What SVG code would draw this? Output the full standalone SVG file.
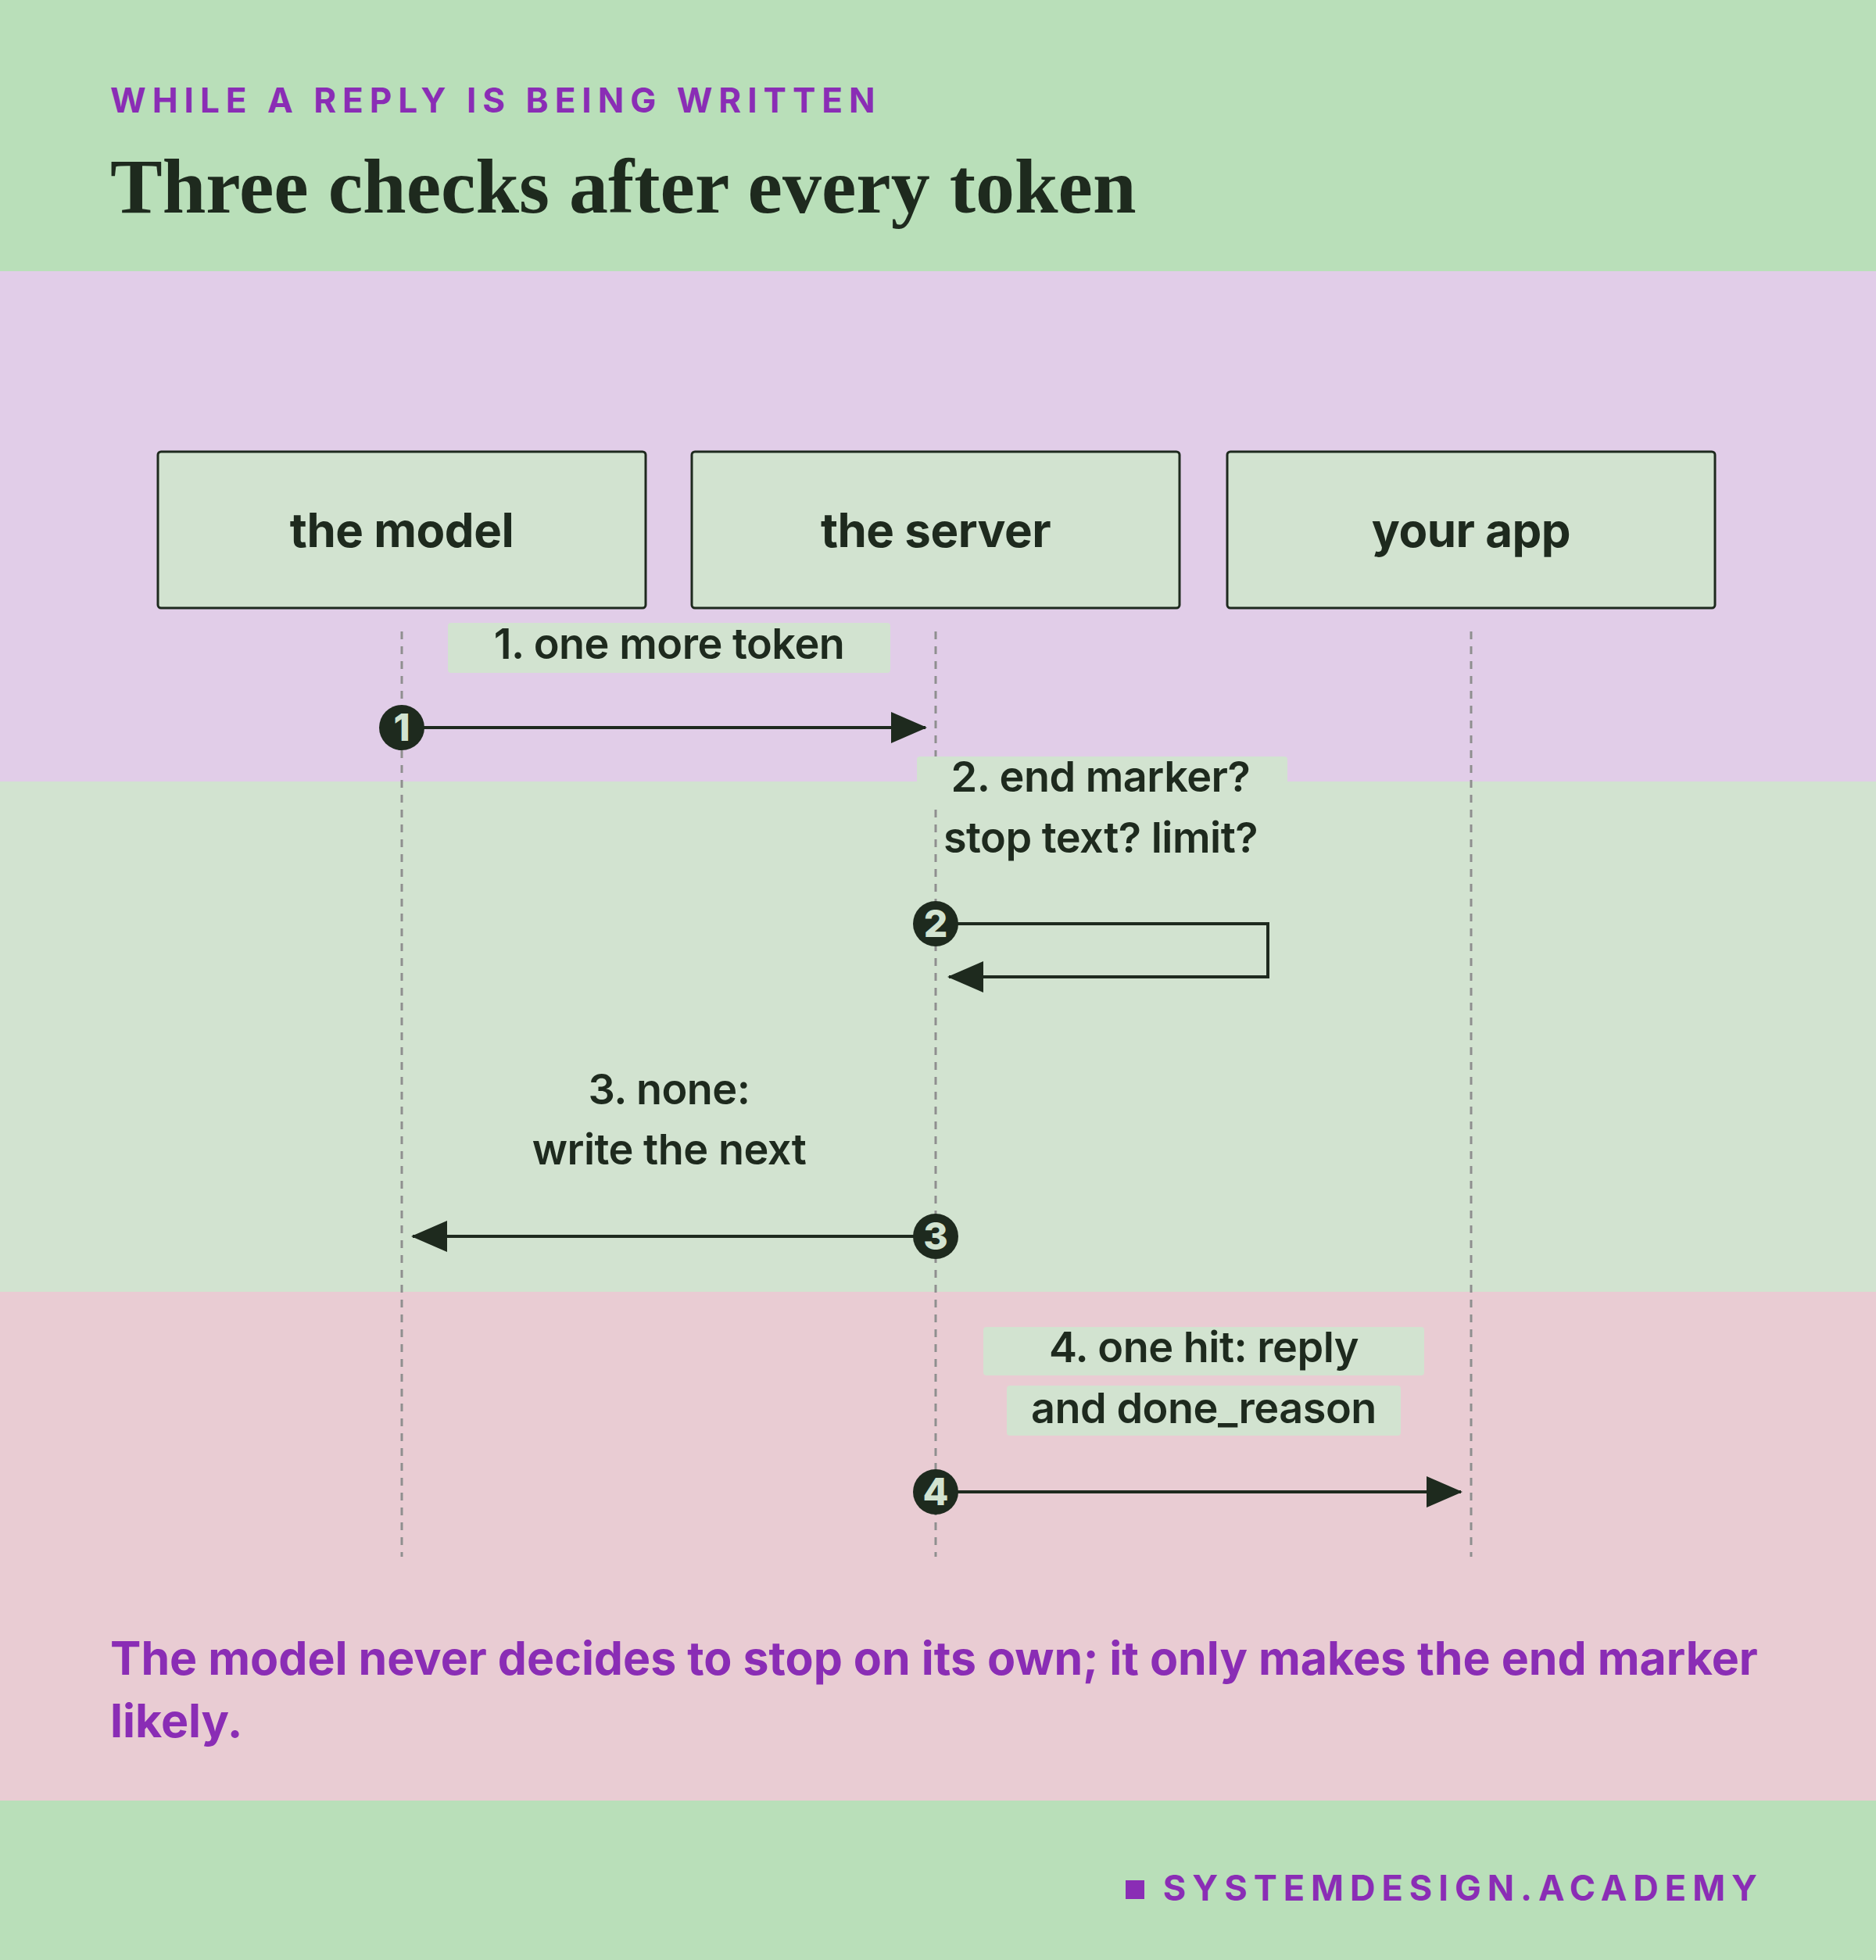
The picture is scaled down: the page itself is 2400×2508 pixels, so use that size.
<svg xmlns="http://www.w3.org/2000/svg" width="2400" height="2508" viewBox="0 0 2400 2508">
<style>
.s{font-family:Inter,"Liberation Sans",sans-serif;font-weight:600;fill:#1e2a1e;letter-spacing:-0.5px}
.b{font-weight:700}
.box{fill:#d2e3d0;stroke:#1e2a1e;stroke-width:3}
.life{stroke:#8f8f8f;stroke-width:3;stroke-dasharray:10 9}
.ln{stroke:#1e2a1e;stroke-width:4;fill:none}
.lab{fill:#d2e3d0}
.num{font-family:Inter,"Liberation Sans",sans-serif;font-weight:800;font-size:48px;fill:#d2e3d0;text-anchor:middle}
.p{font-family:Inter,"Liberation Sans",sans-serif;font-weight:700;fill:#8a2db5}
</style>
<defs>
<marker id="ah" markerUnits="userSpaceOnUse" markerWidth="48" markerHeight="40" refX="44" refY="20" orient="auto"><path d="M0,0 L46,20 L0,40 Z" fill="#1e2a1e"/></marker>
</defs>
<rect x="0" y="0" width="2400" height="347" fill="#b9dfb9"/>
<rect x="0" y="347" width="2400" height="653" fill="#e1cde8"/>
<rect x="0" y="1000" width="2400" height="653" fill="#d2e3d0"/>
<rect x="0" y="1653" width="2400" height="651" fill="#e9ccd3"/>
<rect x="0" y="2304" width="2400" height="204" fill="#b9dfb9"/>
<text x="141" y="144" class="p" font-size="44" letter-spacing="8">WHILE A REPLY IS BEING WRITTEN</text>
<text x="141" y="272" font-family="'Liberation Serif',serif" font-weight="700" font-size="100" fill="#1e2a1e">Three checks after every token</text>
<g id="n-model"><rect class="box" x="202" y="578" width="624" height="200" rx="4"/><text class="s b" x="514" y="700" font-size="60" text-anchor="middle">the model</text></g>
<g id="n-server"><rect class="box" x="885" y="578" width="624" height="200" rx="4"/><text class="s b" x="1197" y="700" font-size="60" text-anchor="middle">the server</text></g>
<g id="n-app"><rect class="box" x="1570" y="578" width="624" height="200" rx="4"/><text class="s b" x="1882" y="700" font-size="60" text-anchor="middle">your app</text></g>
<g id="connectors">
<line class="life" x1="514" y1="808" x2="514" y2="1992"/>
<line class="life" x1="1197" y1="808" x2="1197" y2="1992"/>
<line class="life" x1="1882" y1="808" x2="1882" y2="1992"/>
<rect class="lab" x="573" y="797" width="566" height="64" rx="4"/>
<text class="s" x="856" y="843" font-size="54" text-anchor="middle">1. one more token</text>
<line class="ln" x1="514" y1="931" x2="1184" y2="931" marker-end="url(#ah)"/>
<circle cx="514" cy="931" r="29" fill="#1e2a1e"/><text class="num" x="514" y="948">1</text>
<rect class="lab" x="1173" y="968" width="474" height="60" rx="4"/>
<text class="s" x="1408" y="1013" font-size="54" text-anchor="middle">2. end marker?</text>
<text class="s" x="1408" y="1091" font-size="54" text-anchor="middle">stop text? limit?</text>
<path class="ln" d="M1197,1182 H1622 V1250 H1214" marker-end="url(#ah)"/>
<circle cx="1197" cy="1182" r="29" fill="#1e2a1e"/><text class="num" x="1197" y="1199">2</text>
<text class="s" x="856" y="1413" font-size="54" text-anchor="middle">3. none:</text>
<text class="s" x="856" y="1490" font-size="54" text-anchor="middle">write the next</text>
<line class="ln" x1="1197" y1="1582" x2="528" y2="1582" marker-end="url(#ah)"/>
<circle cx="1197" cy="1582" r="29" fill="#1e2a1e"/><text class="num" x="1197" y="1599">3</text>
<rect class="lab" x="1258" y="1698" width="564" height="62" rx="4"/>
<rect class="lab" x="1288" y="1773" width="504" height="64" rx="4"/>
<text class="s" x="1540" y="1743" font-size="54" text-anchor="middle">4. one hit: reply</text>
<text class="s" x="1540" y="1821" font-size="54" text-anchor="middle">and done_reason</text>
<line class="ln" x1="1197" y1="1909" x2="1869" y2="1909" marker-end="url(#ah)"/>
<circle cx="1197" cy="1909" r="29" fill="#1e2a1e"/><text class="num" x="1197" y="1926">4</text>
</g>
<text class="p" x="141" y="2143" font-size="59">The model never decides to stop on its own; it only makes the end marker</text>
<text class="p" x="141" y="2223" font-size="59">likely.</text>
<rect x="1440" y="2406" width="24" height="24" fill="#8a2db5"/>
<text class="p" x="2256" y="2432" font-size="45" letter-spacing="8" text-anchor="end">SYSTEMDESIGN.ACADEMY</text>
</svg>
